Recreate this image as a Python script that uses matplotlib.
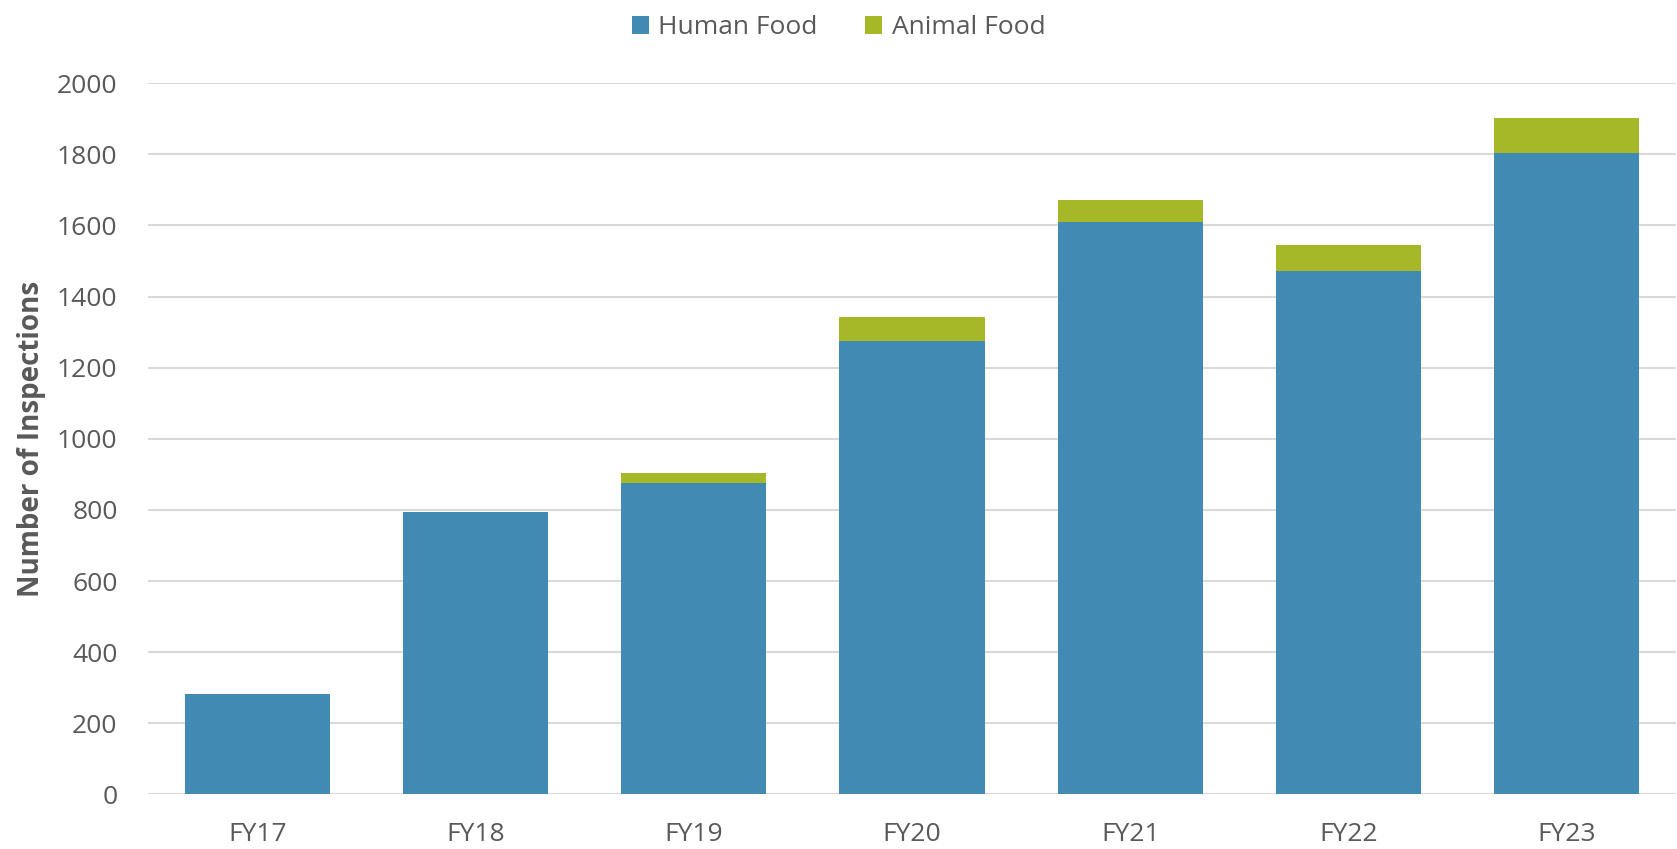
import numpy as np
import matplotlib.pyplot as plt

# Datos
years = ["FY17", "FY18", "FY19", "FY20", "FY21", "FY22", "FY23"]
human_food = [283, 795, 876, 1276, 1611, 1473, 1805]
animal_food = [0, 0, 28, 67, 61, 71, 97]
y_ticks = [0, 200, 400, 600, 800, 1000, 1200, 1400, 1600, 1800, 2000]

blue = "#418AB3"
green = "#A6B727"
gray = "#595959"

plt.rcParams['font.family'] = ['Open Sans', 'DejaVu Sans']

fig = plt.figure(figsize=(16.77, 8.49), dpi=100)
ax = fig.add_axes([0.0883, 0.0644, 0.9111, 0.8375])

x = np.arange(len(years))
ax.bar(x, human_food, width=0.665, color=blue, label="Human Food", zorder=3)
ax.bar(x, animal_food, width=0.665, bottom=human_food, color=green,
       label="Animal Food", zorder=3)

ax.set_xlim(-0.5, len(years) - 0.5)
ax.set_ylim(0, 2000)
ax.set_yticks(y_ticks)
ax.set_xticks(x)
ax.set_xticklabels(years)
ax.tick_params(axis='both', length=0, labelsize=19, colors=gray)
ax.tick_params(axis='y', pad=22)
ax.tick_params(axis='x', pad=20)

ax.grid(axis='y', color="#D9D9D9", linewidth=1.5, zorder=0)
for s in ax.spines.values():
    s.set_visible(False)

ax.set_ylabel("Number of Inspections", fontsize=20, fontweight='bold', color=gray, labelpad=8)

fig.legend(loc='upper center', bbox_to_anchor=(0.5, 1.01), ncol=2, frameon=False,
           fontsize=19, labelcolor=gray, handlelength=0.65, handleheight=0.65,
           columnspacing=1.8, handletextpad=0.35)

plt.savefig("out.png", dpi=100)
